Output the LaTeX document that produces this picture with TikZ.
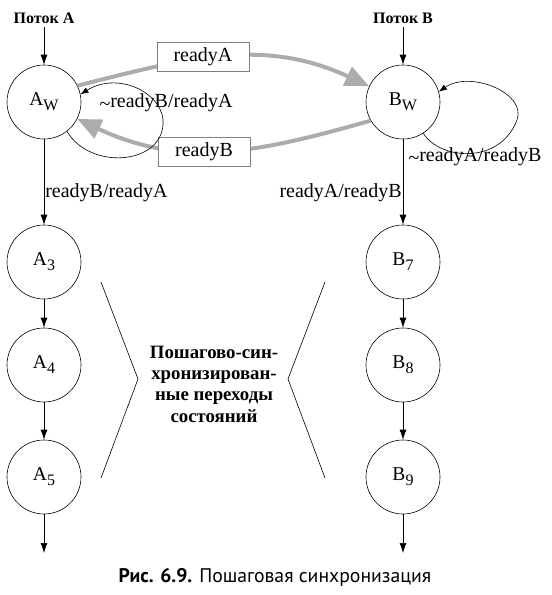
\documentclass[tikz,border=0pt]{standalone}
\usepackage{fontspec}
\setmainfont{Liberation Serif}
\newfontfamily\capfont{PT Sans}
\usetikzlibrary{arrows.meta}
\newcommand\subs[1]{\raisebox{-5pt}{\fontsize{16}{16}\selectfont #1}}
\newcommand\negt{\raisebox{-0.3ex}{\textasciitilde}}
\begin{document}
\begin{tikzpicture}[x=1pt,y=-1pt,
 st/.style={circle,draw,line width=0.6pt,minimum size=74pt,inner sep=0pt,font=\fontsize{19.5}{19.5}\selectfont},
 lbl/.style={font=\fontsize{20}{20}\selectfont,inner sep=1pt},
 rbox/.style={draw=gray,fill=white,line width=0.6pt,minimum width=92pt,minimum height=29pt,inner sep=0pt,font=\fontsize{20}{20}\selectfont},
 ar/.style={line width=0.6pt,-{Latex[length=10pt,width=7pt]}},
 loopar/.style={line width=0.6pt,-{Latex[length=8pt,width=6pt]}},
 syncar/.style={draw=gray!65,line width=4pt,-{Triangle[length=24pt,width=20pt]}},
 ttl/.style={font=\bfseries\fontsize{16}{16}\selectfont},
 mid/.style={font=\bfseries\fontsize{18.8}{21.3}\selectfont,align=center},
 brk/.style={line width=0.6pt},
]
\useasboundingbox (0,0) rectangle (552,595);
\node[ttl] (ta) at (44,18) {Поток A};
\node[ttl] (tb) at (403,18) {Поток B};
\node[st] (aw) at (44,102) {A\subs{W}};
\node[st] (a3) at (44,262) {A\subs{3}};
\node[st] (a4) at (44,365) {A\subs{4}};
\node[st] (a5) at (44,477) {A\subs{5}};
\node[st] (bw) at (403,102) {B\subs{W}};
\node[st] (b7) at (403,262) {B\subs{7}};
\node[st] (b8) at (403,365) {B\subs{8}};
\node[st] (b9) at (403,477) {B\subs{9}};
\coordinate (ae) at (44,553);
\coordinate (be) at (403,553);
% sync arrows
\draw[syncar] (aw.26) .. controls (187,58) and (263,37) .. (bw.155);
\draw[syncar] (bw.210) .. controls (260,152) and (184,169) .. (aw.-27);
\node[rbox] (ra) at (203,57) {readyA};
\node[rbox] (rb) at (204,152) {readyB};
% self loops
\draw[loopar] (aw.-52) .. controls (90,170) and (160,165) .. (163,125) .. controls (166,95) and (120,70) .. (aw.12);
\node[lbl] (la) at (166,103) {\negt readyB/readyA};
\draw[loopar] (bw.-57) .. controls (440,160) and (500,165) .. (517,120) .. controls (527,93) and (470,70) .. (bw.16);
\node[lbl] (lb) at (475,157) {\negt readyA/readyB};
% vertical arrows
\draw[ar] (ta) -- (aw);
\draw[ar] (tb) -- (bw);
\draw[ar] (aw) -- node[lbl,right,pos=0.62] {readyB/readyA} (a3);
\draw[ar] (bw) -- node[lbl,left,pos=0.62] {readyA/readyB} (b7);
\draw[ar] (a3) -- (a4);
\draw[ar] (a4) -- (a5);
\draw[ar] (a5) -- (ae);
\draw[ar] (b7) -- (b8);
\draw[ar] (b8) -- (b9);
\draw[ar] (b9) -- (be);
% brackets
\coordinate (l1) at (101,282); \coordinate (l2) at (138,379); \coordinate (l3) at (101,478);
\coordinate (r1) at (325,282); \coordinate (r2) at (288,379); \coordinate (r3) at (325,478);
\draw[brk] (l1) -- (l2) -- (l3);
\draw[brk] (r1) -- (r2) -- (r3);
\node[mid] (mt) at (214,384) {Пошагово-син-\\хронизирован-\\ные переходы\\состояний};
\node[font=\capfont\fontsize{19.7}{19.7}\selectfont] (cap) at (275,577) {\textbf{Рис. 6.9.} Пошаговая синхронизация};
\end{tikzpicture}
\end{document}
